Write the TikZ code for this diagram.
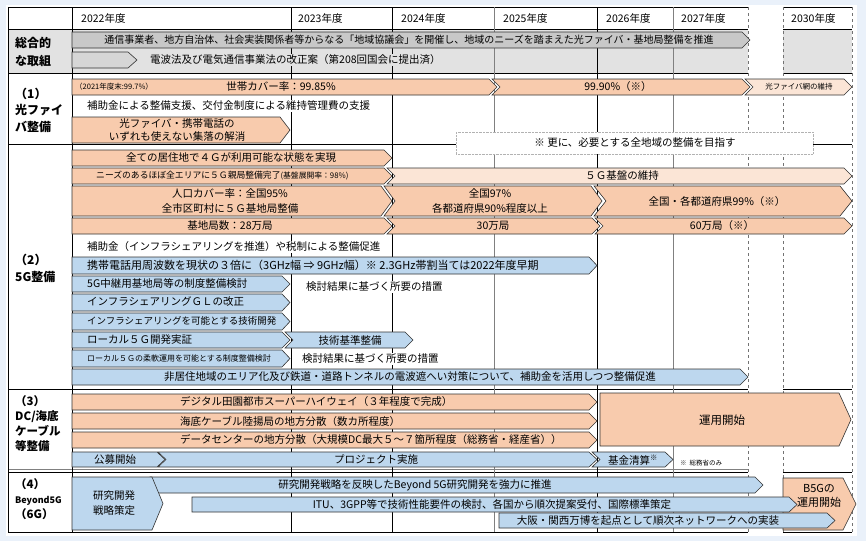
\documentclass[tikz,border=0pt]{standalone}
\usepackage{fontspec}
\setmainfont{Noto Sans CJK JP}
\definecolor{pagebg}{RGB}{234,241,250}
\definecolor{orng}{RGB}{248,203,173}
\definecolor{lorng}{RGB}{251,229,214}
\definecolor{blu}{RGB}{189,215,238}
\definecolor{gry}{RGB}{200,200,200}
\definecolor{mgry}{RGB}{214,214,214}
\definecolor{lgry}{RGB}{226,226,226}
% arrow bar: style, x1, x2, y1, y2, tip
\newcommand\pent[6]{\draw[#1] (#2,#4) -- ({#3-#6},#4) -- (#3,{(#4+#5)/2}) -- ({#3-#6},#5) -- (#2,#5) -- cycle;}
\newcommand\chev[6]{\draw[#1] (#2,#4) -- ({#3-#6},#4) -- (#3,{(#4+#5)/2}) -- ({#3-#6},#5) -- (#2,#5) -- ({#2+#6},{(#4+#5)/2}) -- cycle;}

\begin{document}
\begin{tikzpicture}[x=1pt,y=-1pt,
  bar/.style={draw=black!80,line width=0.6pt},
  orb/.style={bar,fill=orng}, lob/.style={bar,fill=lorng},
  blb/.style={bar,fill=blu}, gyb/.style={bar,fill=gry},
  txt/.style={inner sep=0pt,font=\fontsize{10.5}{15}\selectfont},
  free/.style={txt,anchor=west,fill=white,inner sep=1pt},
  sml/.style={inner sep=0pt,font=\fontsize{7.5}{9}\selectfont},
  lbl/.style={inner sep=0pt,anchor=west,align=left}]
  \fill[pagebg] (0,0) rectangle (866,541);
  \useasboundingbox (0,0) rectangle (866,541);
  \fill[white] (6,5) rectangle (857,536);
  \fill[lgry] (8,29) rectangle (748,73);
  \fill[lgry] (783,29) rectangle (852,73);
  % grid
  \foreach \y in {7,29,73,144,389,472,532} {
    \draw[line width=0.8pt] (8,\y) -- (748,\y);
    \draw[line width=0.8pt] (783,\y) -- (852,\y);}
  \draw[black!50] (8,469) -- (748,469);
  \foreach \x in {8,72,291,392,597} \draw[line width=0.8pt] (\x,7) -- (\x,532);
  \foreach \x in {494,673} \draw[black!50,line width=0.8pt] (\x,7) -- (\x,532);
  \foreach \x in {748,783,852} \draw[black!55,dashed,line width=0.8pt] (\x,7) -- (\x,532);
  \foreach \x/\yr in {81/2022,298/2023,401/2024,503/2025,606/2026,681/2027,791/2030}
    \node[txt,anchor=west] (y\yr) at (\x,18) {\yr 年度};

  % labels
  \node[lbl,font=\fontsize{12}{18}\selectfont\bfseries] (sogo) at (15,52) {総合的\\な取組};
  \node[lbl,font=\fontsize{12}{16.5}\selectfont\bfseries] (hikari) at (15,110) {（1）\\光ファイ\\バ整備};
  \node[lbl,font=\fontsize{12}{17}\selectfont\bfseries] (gokei) at (15,268) {（2）\\5G整備};
  \node[lbl,font=\fontsize{11.5}{15}\selectfont\bfseries] (dc) at (15,424) {（3）\\DC/海底\\ケーブル\\等整備};
  \node[lbl,font=\fontsize{11.5}{15}\selectfont\bfseries] (beyond) at (15,499) {（4）\\{\fontsize{9}{15}\selectfont Beyond5G}\\（6G）};

  % sogo
  \pent{gyb}{72}{750}{32}{48}{8}
  \node[txt,font=\fontsize{10}{12}\selectfont] (kyogi) at (409,40) {通信事業者、地方自治体、社会実装関係者等からなる「地域協議会」を開催し、地域のニーズを踏まえた光ファイバ・基地局整備を推進};
  \pent{bar,fill=mgry}{72}{137}{52}{68}{9}
  \node[free,fill=lgry] (kaisei) at (149,60) {電波法及び電気通信事業法の改正案（第208回国会に提出済）};

  % (1)
  \pent{orb}{72}{497}{79}{95}{8}
  \node[sml,anchor=west] (r2021) at (75,87) {（2021年度末:99.7\%）};
  \node[txt] (setai) at (281,87) {世帯カバー率：99.85\%};
  \chev{orb}{492}{750}{79}{95}{8}
  \node[txt] (r9990) at (618,87) {99.90\%（※）};
  \chev{lob}{745}{852}{79}{95}{8}
  \node[sml] (fiberiji) at (799,87) {光ファイバ網の維持};
  \node[free] (hojo1) at (86,106) {補助金による整備支援、交付金制度による維持管理費の支援};
  \pent{orb}{72}{290}{117}{143}{10}
  \node[txt,align=center,font=\fontsize{10.5}{13}\selectfont] (kaisho) at (177,130) {光ファイバ・携帯電話の\\いずれも使えない集落の解消};
  \draw[black!30,densely dotted,fill=white] (456,132) rectangle (813,154);
  \node[txt] (mezasu) at (635,143) {※ 更に、必要とする全地域の整備を目指す};

  % (2)
  \pent{orb}{72}{392}{150}{166}{8}
  \node[txt] (zenkyo) at (231,158) {全ての居住地で４Ｇが利用可能な状態を実現};
  \pent{orb}{72}{392}{168}{184}{8}
  \node[inner sep=0pt,anchor=west] (oyakyoku) at (96,176) {\fontsize{8.8}{10}\selectfont ニーズのあるほぼ全エリアに５Ｇ親局整備完了\fontsize{7.8}{9}\selectfont (基盤展開率：98\%)};
  \chev{lob}{387}{852}{168}{184}{8}
  \node[txt] (kiban) at (622,176) {５Ｇ基盤の維持};
  \pent{orb}{72}{392}{186}{216}{11}
  \node[txt,align=center] (jinko) at (230,201) {人口カバー率：全国95\%\\全市区町村に５Ｇ基地局整備};
  \chev{orb}{384}{602}{186}{216}{11}
  \node[txt,align=center] (zenkoku97) at (490,201) {全国97\%\\各都道府県90\%程度以上};
  \chev{orb}{594}{852}{186}{216}{12}
  \node[txt] (zenkoku99) at (717,202) {全国・各都道府県99\%（※）};
  \pent{orb}{72}{392}{218}{234}{8}
  \node[txt] (kyoku28) at (230,226) {基地局数：28万局};
  \chev{orb}{387}{600}{218}{234}{8}
  \node[txt] (kyoku30) at (493,226) {30万局};
  \chev{orb}{595}{852}{218}{234}{8}
  \node[txt] (kyoku60) at (722,226) {60万局（※）};
  \node[free] (hojo2) at (86,247) {補助金（インフラシェアリングを推進）や税制による整備促進};
  \pent{blb}{72}{597}{257}{274}{8}
  \node[txt,anchor=west,font=\fontsize{11}{13}\selectfont] (shuha) at (87,265) {携帯電話用周波数を現状の３倍に（3GHz幅 ⇒ 9GHz幅）※ 2.3GHz帯割当ては2022年度早期};
  \pent{blb}{72}{290}{276}{292}{8}
  \node[txt,anchor=west] (chukei) at (87,284) {5G中継用基地局等の制度整備検討};
  \pent{blb}{72}{290}{294}{311}{8}
  \node[txt,anchor=west] (glkaisei) at (87,302) {インフラシェアリングＧＬの改正};
  \pent{blb}{72}{290}{313}{330}{8}
  \node[txt,anchor=west,font=\fontsize{9.5}{11}\selectfont] (gijutsu) at (87,321) {インフラシェアリングを可能とする技術開発};
  \node[free] (sochi1) at (305,287) {検討結果に基づく所要の措置};
  \pent{blb}{72}{290}{332}{348}{8}
  \node[txt,anchor=west] (local) at (87,340) {ローカル５Ｇ開発実証};
  \chev{blb}{285}{413}{332}{348}{8}
  \node[txt] (kijun) at (350,340) {技術基準整備};
  \pent{blb}{72}{290}{350}{367}{8}
  \node[inner sep=0pt,anchor=west,font=\fontsize{8}{9}\selectfont] (junan) at (87,358) {ローカル５Ｇの柔軟運用を可能とする制度整備検討};
  \node[free] (sochi2) at (301,359) {検討結果に基づく所要の措置};
  \pent{blb}{72}{748}{369}{385}{8}
  \node[txt] (hikyoju) at (410,377) {非居住地域のエリア化及び鉄道・道路トンネルの電波遮へい対策について、補助金を活用しつつ整備促進};

  % (3)
  \pent{orb}{72}{597}{394}{410}{8}
  \node[txt,anchor=west] (denen) at (180,402) {デジタル田園都市スーパーハイウェイ（３年程度で完成）};
  \pent{orb}{72}{597}{413}{429}{8}
  \node[txt,anchor=west] (kaitei) at (180,421) {海底ケーブル陸揚局の地方分散（数カ所程度）};
  \pent{orb}{72}{597}{432}{448}{8}
  \node[txt,anchor=west] (dcbunsan) at (180,440) {データセンターの地方分散（大規模DC最大５～７箇所程度（総務省・経産省））};
  \pent{orb}{600}{851}{393}{446}{12}
  \node[txt,font=\fontsize{11.5}{14}\selectfont] (unyo) at (722,420) {運用開始};
  \pent{blb}{72}{165}{452}{467}{8}
  \node[txt] (kobo) at (115,460) {公募開始};
  \chev{blb}{158}{597}{452}{467}{8}
  \node[txt] (pj) at (376,460) {プロジェクト実施};
  \chev{blb}{592}{673}{452}{467}{8}
  \node[txt] (kikin) at (633,460) {基金清算\textsuperscript{※}};
  \node[inner sep=0pt,anchor=west,font=\fontsize{6.5}{8}\selectfont] (somu) at (680,463) {※\ \ 総務省のみ};

  % (4)
  \pent{blb}{150}{763}{477}{493}{8}
  \node[txt] (kyoka) at (415,485) {研究開発戦略を反映したBeyond 5G研究開発を強力に推進};
  \pent{blb}{72}{163}{477}{530}{11}
  \node[txt,align=center] (senryaku) at (114,503) {研究開発\\戦略策定};
  \pent{orb}{783}{856}{478}{530}{13}
  \pent{blb}{192}{797}{497}{512}{8}
  \node[txt] (itu) at (492,504) {ITU、3GPP等で技術性能要件の検討、各国から順次提案受付、国際標準策定};
  \pent{blb}{499}{835}{513}{528}{8}
  \node[txt] (banpaku) at (648,521) {大阪・関西万博を起点として順次ネットワークへの実装};
  \node[txt,align=center,font=\fontsize{11}{14}\selectfont] (b5gunyo) at (819,496) {B5Gの\\運用開始};
\end{tikzpicture}
\end{document}
